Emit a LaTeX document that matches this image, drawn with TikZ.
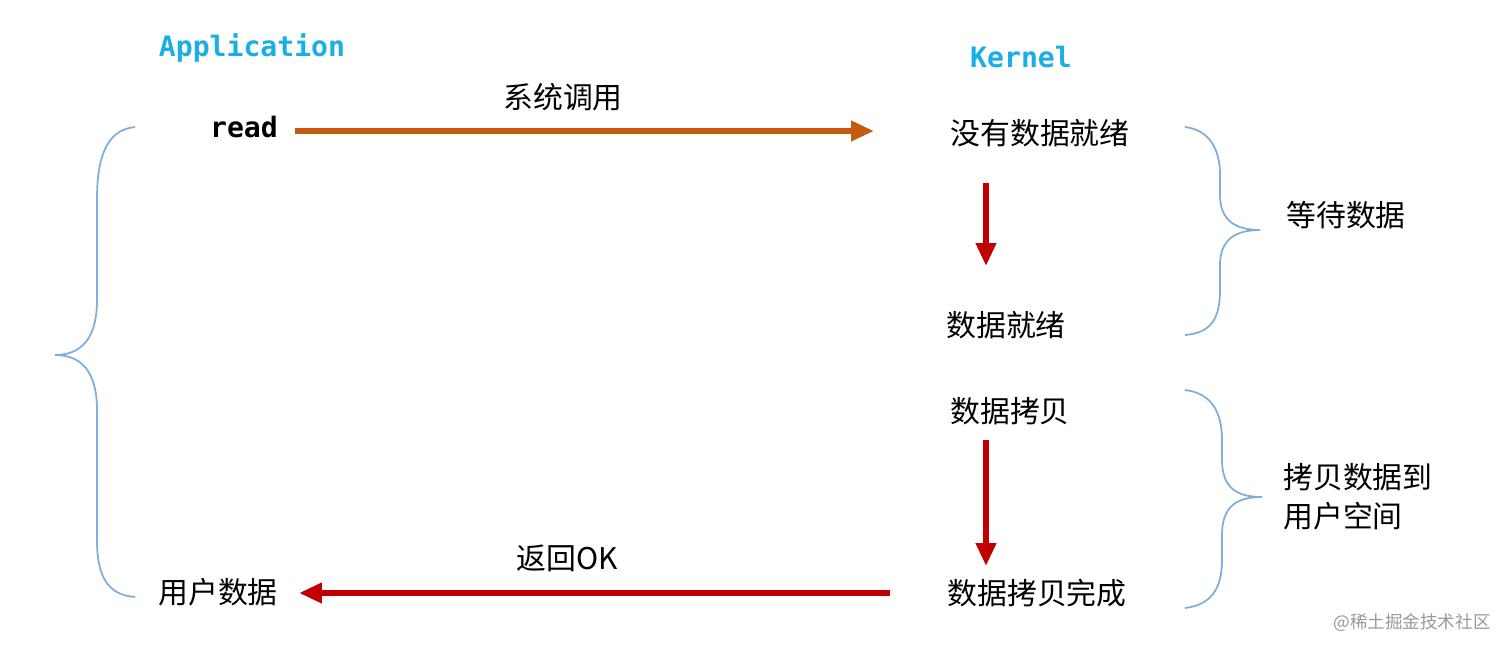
\documentclass[tikz,border=0pt]{standalone}
\usepackage{fontspec}
\setmainfont{Noto Sans CJK SC}
\newfontfamily\monob{DejaVu Sans Mono}
\usetikzlibrary{arrows.meta}
\definecolor{appc}{HTML}{1AAEE6}
\definecolor{orng}{HTML}{C55A11}
\definecolor{dred}{HTML}{C00000}
\definecolor{brc}{HTML}{7FAEDB}
\tikzset{
 lbl/.style={inner sep=0pt,font=\fontsize{17}{20}\selectfont},
 ttl/.style={inner sep=0pt,font=\monob\bfseries\fontsize{16}{20}\selectfont,text=appc},
 arr/.style={line width=3.6pt,-{Triangle[length=13pt,width=11pt]}},
 brace/.style={draw=brc,line width=1pt},
}
\begin{document}
\begin{tikzpicture}[x=0.02cm,y=-0.02cm]
\useasboundingbox (0,0) rectangle (1512,653);
\node[ttl] (app) at (252,48) {Application};
\node[ttl] (ker) at (1021,57) {Kernel};
\node[lbl,font=\monob\bfseries\fontsize{16}{20}\selectfont] (read) at (244,127) {read};
\node[lbl] (call) at (563,97) {系统调用};
\node[lbl] (n1) at (1040,133) {没有数据就绪};
\node[lbl] (n2) at (1006,325) {数据就绪};
\node[lbl] (n3) at (1010,411) {数据拷贝};
\node[lbl] (n4) at (1037,593) {数据拷贝完成};
\node[lbl] (ok) at (567,558) {返回OK};
\node[lbl] (ud) at (218,592) {用户数据};
\node[lbl] (wait) at (1346,215) {等待数据};
\node[lbl,align=left,anchor=west] (copy) at (1283,497) {拷贝数据到\\[2pt]用户空间};
\node[inner sep=0pt,font=\fontsize{10}{12}\selectfont,text=gray!80] (wm) at (1412,623) {@稀土掘金技术社区};
\coordinate (a1s) at (295,131); \coordinate (a1e) at (874,131);
\coordinate (a2s) at (986,183); \coordinate (a2e) at (986,266);
\coordinate (a3s) at (986,440); \coordinate (a3e) at (986,566);
\coordinate (a4s) at (890,593); \coordinate (a4e) at (299,593);
\draw[arr,orng] (a1s) -- (a1e);
\draw[arr,dred] (a2s) -- (a2e);
\draw[arr,dred] (a3s) -- (a3e);
\draw[arr,dred] (a4s) -- (a4e);
% left brace
\draw[brace] (135,127) .. controls (105,130) and (97,160) .. (97,200) -- (97,300) .. controls (97,340) and (80,355) .. (55,355) .. controls (80,355) and (97,370) .. (97,410) -- (97,540) .. controls (97,580) and (110,595) .. (135,597);
% right brace 1
\draw[brace] (1185,127) .. controls (1210,130) and (1220,150) .. (1220,175) -- (1220,195) .. controls (1220,220) and (1235,230) .. (1260,230) .. controls (1235,230) and (1220,240) .. (1220,265) -- (1220,290) .. controls (1220,320) and (1210,333) .. (1185,335);
% right brace 2
\draw[brace] (1185,390) .. controls (1210,393) and (1222,410) .. (1222,440) -- (1222,460) .. controls (1222,488) and (1237,497) .. (1262,497) .. controls (1237,497) and (1222,506) .. (1222,535) -- (1222,560) .. controls (1222,590) and (1210,605) .. (1185,608);
\end{tikzpicture}
\end{document}
